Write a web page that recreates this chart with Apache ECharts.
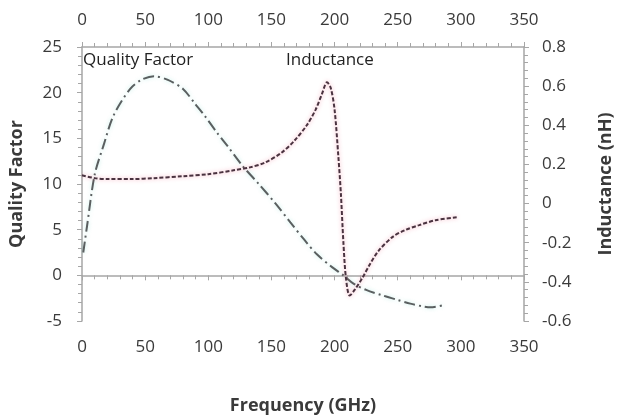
<!DOCTYPE html>
<html>
<head>
<meta charset="utf-8">
<title>Quality Factor / Inductance</title>
<script src="https://cdn.jsdelivr.net/npm/echarts@6/dist/echarts.min.js"></script>
<style>
html,body{margin:0;padding:0;background:#fff;}
#main{width:623px;height:420px;}
</style>
</head>
<body>
<div id="main"></div>
<script>
// 频率 / 品质因数
var freqQ = [1, 4, 10, 17, 25, 38, 47, 57, 68, 80, 90, 97, 107, 115, 127, 140, 153, 165, 176, 186, 198, 207, 215, 225, 238, 250, 260, 270, 276, 285];
var qualityFactor = [2.5, 5.4, 11, 14.2, 17.5, 20.4, 21.4, 21.8, 21.4, 20.4, 18.7, 17.5, 15.6, 14.2, 12, 10, 7.9, 5.8, 3.9, 2.3, 0.9, 0, -0.9, -1.6, -2.2, -2.7, -3.1, -3.4, -3.5, -3.3];
// 频率 / 电感
var freqL = [0, 10, 20, 40, 57, 80, 100, 120, 133, 145, 158, 168, 178, 185, 190, 194, 197, 200, 203, 205, 207, 209, 212, 216, 222, 228, 235, 246, 256, 267, 280, 297];
var inductance = [0.145, 0.13, 0.125, 0.125, 0.13, 0.14, 0.15, 0.17, 0.185, 0.21, 0.26, 0.32, 0.40, 0.48, 0.56, 0.62, 0.59, 0.48, 0.24, 0.05, -0.2, -0.38, -0.47, -0.44, -0.38, -0.31, -0.24, -0.17, -0.135, -0.11, -0.085, -0.07];

var FONT = 'Open Sans';
var axisColor = '#a6a6a6';
var textColor = '#3a3a3a';

function pairs(xs, ys){
	var arr = [];
	for (var i = 0; i < xs.length; i++) {
		arr.push([xs[i], ys[i]]);
	}
	return arr;
}

function xAxisCfg(pos){
	return {
		type: 'value',
		position: pos,
		min: 0,
		max: 350,
		interval: 50,
		axisLine: {onZero: pos == 'bottom', onZeroAxisIndex: 0, lineStyle: {color: axisColor, width: 1.5}},
		axisTick: {show: true, length: 5, lineStyle: {color: axisColor}},
		minorTick: {show: true, splitNumber: 5, length: 4, lineStyle: {color: axisColor}},
		axisLabel: {color: textColor, fontFamily: FONT, fontSize: 17, margin: 18},
		splitLine: {show: false}
	};
}

var nameStyle = {color: textColor, fontFamily: FONT, fontSize: 18, fontWeight: 'bold'};

var myChart = echarts.init(document.getElementById('main'));
var option = {
	animation: false,
	grid: {left: 75, right: 86, top: 47, bottom: 31},
	xAxis: [
		Object.assign(xAxisCfg('bottom'), {
			name: 'Frequency (GHz)',
			nameLocation: 'middle',
			nameGap: 76,
			nameTextStyle: nameStyle
		}),
		xAxisCfg('top')
	],
	yAxis: [
		{
			type: 'value',
			position: 'left',
			min: -5,
			max: 25,
			interval: 5,
			name: 'Quality Factor',
			nameLocation: 'middle',
			nameGap: 56,
			nameTextStyle: nameStyle,
			axisLine: {show: true, onZero: false, lineStyle: {color: axisColor, width: 1.5}},
			axisTick: {show: true, length: 5, lineStyle: {color: axisColor}},
			minorTick: {show: true, splitNumber: 5, length: 4, lineStyle: {color: axisColor}},
			axisLabel: {color: textColor, fontFamily: FONT, fontSize: 17, margin: 20},
			splitLine: {show: false}
		},
		{
			type: 'value',
			position: 'right',
			min: -0.6,
			max: 0.8,
			interval: 0.2,
			name: 'Inductance (nH)',
			nameLocation: 'middle',
			nameGap: 73,
			nameTextStyle: nameStyle,
			axisLine: {show: true, onZero: false, lineStyle: {color: axisColor, width: 1.5}},
			axisTick: {show: true, length: 5, lineStyle: {color: axisColor}},
			minorTick: {show: true, splitNumber: 5, length: 4, lineStyle: {color: axisColor}},
			axisLabel: {color: textColor, fontFamily: FONT, fontSize: 17, margin: 18},
			splitLine: {show: false}
		}
	],
	graphic: [
		{type: 'text', left: 83, top: 52, style: {text: 'Quality Factor', fill: '#222', font: '17px "Open Sans"'}},
		{type: 'text', left: 286, top: 52, style: {text: 'Inductance', fill: '#222', font: '17px "Open Sans"'}}
	],
	series: [
		{
			name: 'Quality Factor',
			type: 'line',
			xAxisIndex: 0,
			yAxisIndex: 0,
			smooth: 0.3,
			showSymbol: false,
			data: pairs(freqQ, qualityFactor),
			lineStyle: {color: '#5a5f60', width: 2, type: [11, 4, 2, 4], shadowColor: 'rgba(60,200,180,0.3)', shadowBlur: 4}
		},
		{
			name: 'Inductance',
			type: 'line',
			xAxisIndex: 0,
			yAxisIndex: 1,
			smooth: 0.3,
			showSymbol: false,
			data: pairs(freqL, inductance),
			lineStyle: {color: '#4a3340', width: 2, type: [4, 2], shadowColor: 'rgba(230,40,80,0.4)', shadowBlur: 4}
		}
	]
};
myChart.setOption(option);
</script>
</body>
</html>
